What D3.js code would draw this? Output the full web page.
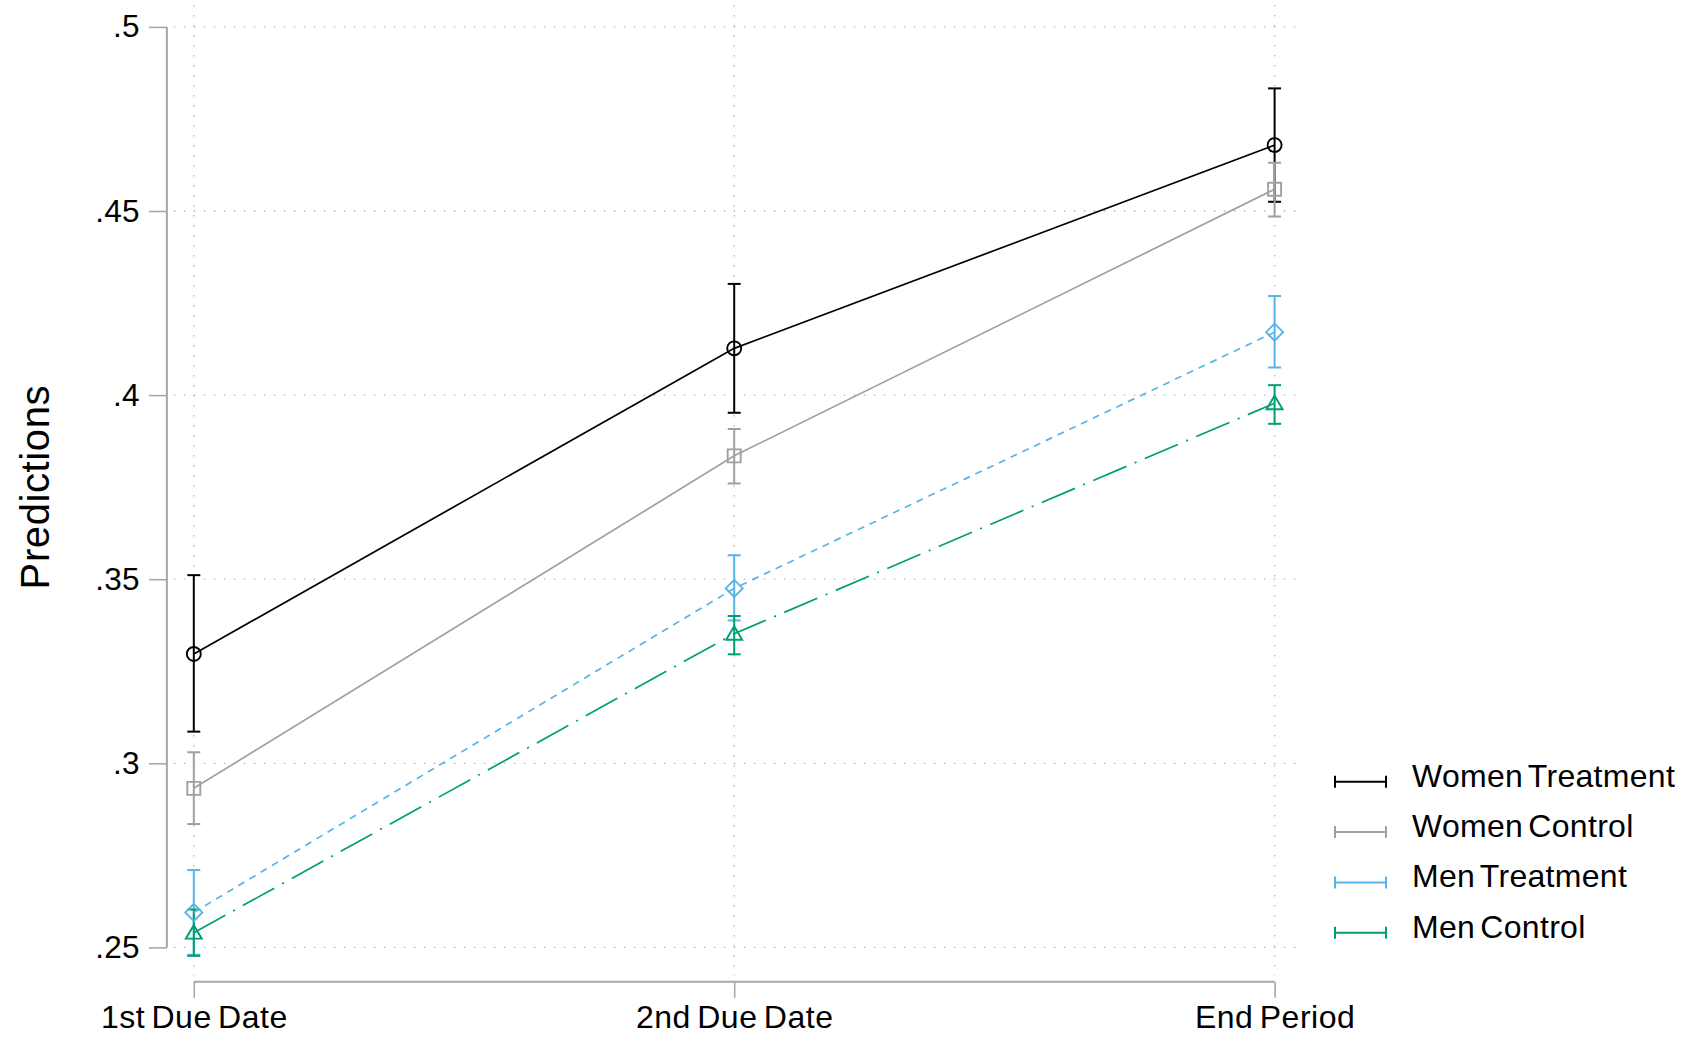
<!DOCTYPE html>
<html>
<head>
<meta charset="utf-8">
<script src="https://cdn.jsdelivr.net/npm/d3@7"></script>
<style>
html,body{margin:0;padding:0;background:#fff;}
svg{display:block;}
text{font-family:"Liberation Sans",Arial,Helvetica,sans-serif;fill:#000;}
</style>
</head>
<body>
<svg id="chart" width="1688" height="1038"></svg>
<script>
// ---- data ----
const categories = ["1st Due Date", "2nd Due Date", "End Period"];
const seriesNames = ["Women Treatment", "Women Control", "Men Treatment", "Men Control"];
const womenTreatment   = [0.3297, 0.4127, 0.4679];
const womenTreatmentLo = [0.3086, 0.3952, 0.4525];
const womenTreatmentHi = [0.3511, 0.4302, 0.4833];
const womenControl     = [0.2932, 0.3835, 0.4559];
const womenControlLo   = [0.2835, 0.3760, 0.4485];
const womenControlHi   = [0.3030, 0.3908, 0.4631];
const menTreatment     = [0.2595, 0.3475, 0.4171];
const menTreatmentLo   = [0.2480, 0.3388, 0.4075];
const menTreatmentHi   = [0.2710, 0.3565, 0.4269];
const menControl       = [0.2540, 0.3352, 0.3978];
const menControlLo     = [0.2477, 0.3296, 0.3922];
const menControlHi     = [0.2603, 0.3400, 0.4027];
const yTickValues = [0.25, 0.3, 0.35, 0.4, 0.45, 0.5];
const yTickLabels = [".25", ".3", ".35", ".4", ".45", ".5"];
const yTitle = "Predictions";

// ---- styles ----
const colors = ["#000000", "#a0a0a0", "#56b4e9", "#009e73"];
const dashes = [null, null, "7,6", "36,9,2,9"];
const markers = ["circle", "square", "diamond", "triangle"];

const series = seriesNames.map((name, i) => ({
  name,
  values: [womenTreatment, womenControl, menTreatment, menControl][i],
  lo: [womenTreatmentLo, womenControlLo, menTreatmentLo, menControlLo][i],
  hi: [womenTreatmentHi, womenControlHi, menTreatmentHi, menControlHi][i],
  color: colors[i], dash: dashes[i], marker: markers[i]
}));

const svg = d3.select("#chart");
const x = d3.scalePoint().domain(categories).range([193.8, 1274.6]);
const y = d3.scaleLinear().domain([0.25, 0.5]).range([947.4, 26.9]);

const FONT = 32;
const gridColor = "#b4b4b4";
const axisColor = "#a8a8a8";

// grid
const gx0 = x(categories[0]) - 20, gx1 = x(categories[2]) + 26;
const gy0 = y(0.5) - 22, gy1 = y(0.25) + 28;
svg.append("g").selectAll("line").data(yTickValues).join("line")
  .attr("x1", gx0).attr("x2", gx1)
  .attr("y1", d => y(d)).attr("y2", d => y(d))
  .attr("stroke", gridColor).attr("stroke-width", 1.3).attr("stroke-dasharray", "1.5,8.5");
svg.append("g").selectAll("line").data(categories).join("line")
  .attr("x1", d => x(d)).attr("x2", d => x(d))
  .attr("y1", gy0).attr("y2", gy1)
  .attr("stroke", gridColor).attr("stroke-width", 1.3).attr("stroke-dasharray", "1.5,8.5");

// y axis
const yAxis = d3.axisLeft(y).tickValues(yTickValues)
  .tickFormat((d, i) => yTickLabels[i]).tickSize(18).tickPadding(9);
const gY = svg.append("g").attr("transform", "translate(166.9,0)").call(yAxis);
gY.select(".domain").attr("d", `M0,${y(0.5)}V${y(0.25)}`).attr("stroke", axisColor).attr("stroke-width", 2);
gY.selectAll(".tick line").attr("stroke", axisColor).attr("stroke-width", 1.6);
gY.selectAll(".tick text").attr("font-size", 31.5).attr("letter-spacing", "0.3px")
  .attr("font-family", '"Liberation Sans",Arial,sans-serif').attr("fill", "#000");

// x axis
const xAxis = d3.axisBottom(x).tickSize(16).tickPadding(8);
const gX = svg.append("g").attr("transform", "translate(0,981.8)").call(xAxis);
gX.select(".domain").attr("d", `M${x(categories[0])},0H${x(categories[2])}`).attr("stroke", axisColor).attr("stroke-width", 2);
gX.selectAll(".tick line").attr("stroke", axisColor).attr("stroke-width", 1.6);
gX.selectAll(".tick text").attr("font-size", FONT).attr("letter-spacing", "0.5px").attr("word-spacing", "-3px")
  .attr("font-family", '"Liberation Sans",Arial,sans-serif').attr("fill", "#000")
  .attr("dy", "0.68em");

// y title
svg.append("text").attr("transform", `translate(49,${(y(0.5) + y(0.25)) / 2}) rotate(-90)`)
  .attr("text-anchor", "middle").attr("font-size", 40).attr("letter-spacing", "0.6px")
  .text(yTitle);

// error bars
const capW = 13;
series.forEach(s => {
  const g = svg.append("g").attr("stroke", s.color).attr("stroke-width", 2).attr("fill", "none");
  categories.forEach((c, j) => {
    const cx = x(c);
    g.append("line").attr("x1", cx).attr("x2", cx).attr("y1", y(s.lo[j])).attr("y2", y(s.hi[j]));
    g.append("line").attr("x1", cx - capW / 2).attr("x2", cx + capW / 2).attr("y1", y(s.lo[j])).attr("y2", y(s.lo[j]));
    g.append("line").attr("x1", cx - capW / 2).attr("x2", cx + capW / 2).attr("y1", y(s.hi[j])).attr("y2", y(s.hi[j]));
  });
});

// lines + markers
const line = d3.line().x((d, j) => x(categories[j])).y(d => y(d));
function markerPath(type) {
  switch (type) {
    case "circle": return d3.symbol(d3.symbolCircle, Math.PI * 7 * 7)();
    case "square": return "M-6.5,-6.5H6.5V6.5H-6.5Z";
    case "diamond": return "M0,-8.5L8.5,0L0,8.5L-8.5,0Z";
    case "triangle": return "M0,-7.5L8,6L-8,6Z";
  }
}
series.forEach(s => {
  svg.append("path").datum(s.values).attr("d", line)
    .attr("fill", "none").attr("stroke", s.color).attr("stroke-width", 1.7)
    .attr("stroke-dasharray", s.dash);
  svg.append("g").selectAll("path").data(s.values).join("path")
    .attr("transform", (d, j) => `translate(${x(categories[j])},${y(d)})`)
    .attr("d", markerPath(s.marker))
    .attr("fill", "none").attr("stroke", s.color).attr("stroke-width", 1.9);
});

// legend
const legend = svg.append("g");
const rowY = d3.scaleLinear().domain([0, 3]).range([781.7, 932.8]);
series.forEach((s, i) => {
  const ly = rowY(i);
  const g = legend.append("g").attr("stroke", s.color).attr("stroke-width", 2);
  g.append("line").attr("x1", 1335).attr("x2", 1386).attr("y1", ly).attr("y2", ly);
  g.append("line").attr("x1", 1335).attr("x2", 1335).attr("y1", ly - 6).attr("y2", ly + 6);
  g.append("line").attr("x1", 1386).attr("x2", 1386).attr("y1", ly - 6).attr("y2", ly + 6);
  legend.append("text").attr("x", 1412).attr("y", ly + 5)
    .attr("font-size", FONT).attr("letter-spacing", "0.3px").attr("word-spacing", "-4px")
    .text(s.name);
});
</script>
</body>
</html>
